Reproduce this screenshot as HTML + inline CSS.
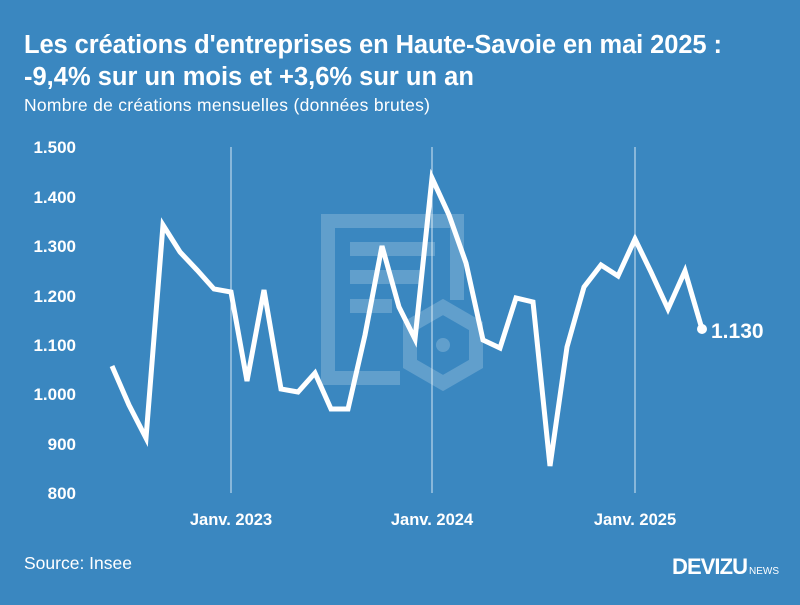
<!DOCTYPE html>
<html><head><meta charset="utf-8"><style>
body{margin:0;width:800px;height:600px;background:#3a87c0;overflow:hidden;font-family:"Liberation Sans",sans-serif}
</style></head><body>
<svg width="800" height="600" xmlns="http://www.w3.org/2000/svg" font-family="Liberation Sans, sans-serif">
<rect width="800" height="600" fill="#3a87c0"/>
<text x="24" y="53" fill="#fff" font-size="25.5" font-weight="bold" textLength="698">Les créations d'entreprises en Haute-Savoie en mai 2025 :</text>
<text x="24" y="85" fill="#fff" font-size="25.5" font-weight="bold">-9,4% sur un mois et +3,6% sur un an</text>
<text x="24" y="111" fill="#fff" font-size="17.5" textLength="406">Nombre de créations mensuelles (données brutes)</text>
<g fill="none" stroke="#fff" stroke-opacity="0.2" stroke-width="14">
<path d="M400,378 H328 V221 H457 V300"/>
<path d="M350,249 H435 M350,277 H420 M350,306 H392"/>
<polygon points="443,307 476,326 476,364 443,383 410,364 410,326"/>
</g>
<circle cx="443" cy="345" r="7" fill="#fff" fill-opacity="0.2"/>
<g stroke="#fff" stroke-opacity="0.8" stroke-width="1">
<line x1="231" y1="147" x2="231" y2="493"/><line x1="432" y1="147" x2="432" y2="493"/><line x1="635" y1="147" x2="635" y2="493"/>
</g>
<g fill="#fff" font-size="17" font-weight="bold">
<g text-anchor="end">
<text x="76" y="153">1.500</text><text x="76" y="203">1.400</text><text x="76" y="252">1.300</text><text x="76" y="302">1.200</text><text x="76" y="351">1.100</text><text x="76" y="400">1.000</text><text x="76" y="450">900</text><text x="76" y="499">800</text>
</g>
<text x="231" y="525" text-anchor="middle" font-size="16.5">Janv. 2023</text>
<text x="432" y="525" text-anchor="middle" font-size="16.5">Janv. 2024</text>
<text x="635" y="525" text-anchor="middle" font-size="16.5">Janv. 2025</text>
<text x="711" y="338" font-size="21">1.130</text>
</g>
<polyline fill="none" stroke="#fff" stroke-width="5" stroke-linejoin="miter" points="112,366 129,405 146,438 163,225 180,252 197,270 214,289 231,292 247,381 264,290 281,389 298,392 315,373 331,409 348,409 365,335 382,246 399,307 415,339 432,178 449,215 466,263 483,340 500,348 516,298 533,302 550,466 567,347 584,287 601,265 618,276 635,239 651,272 668,309 685,271 702,329"/>
<circle cx="702" cy="329" r="5" fill="#fff"/>
<text x="24" y="569" fill="#fff" font-size="17.5">Source: Insee</text>
<text x="672" y="574" fill="#fff" font-size="22" font-weight="bold" textLength="76">DEVIZU</text>
<text x="749" y="574" fill="#fff" font-size="10">NEWS</text>
</svg>
</body></html>
